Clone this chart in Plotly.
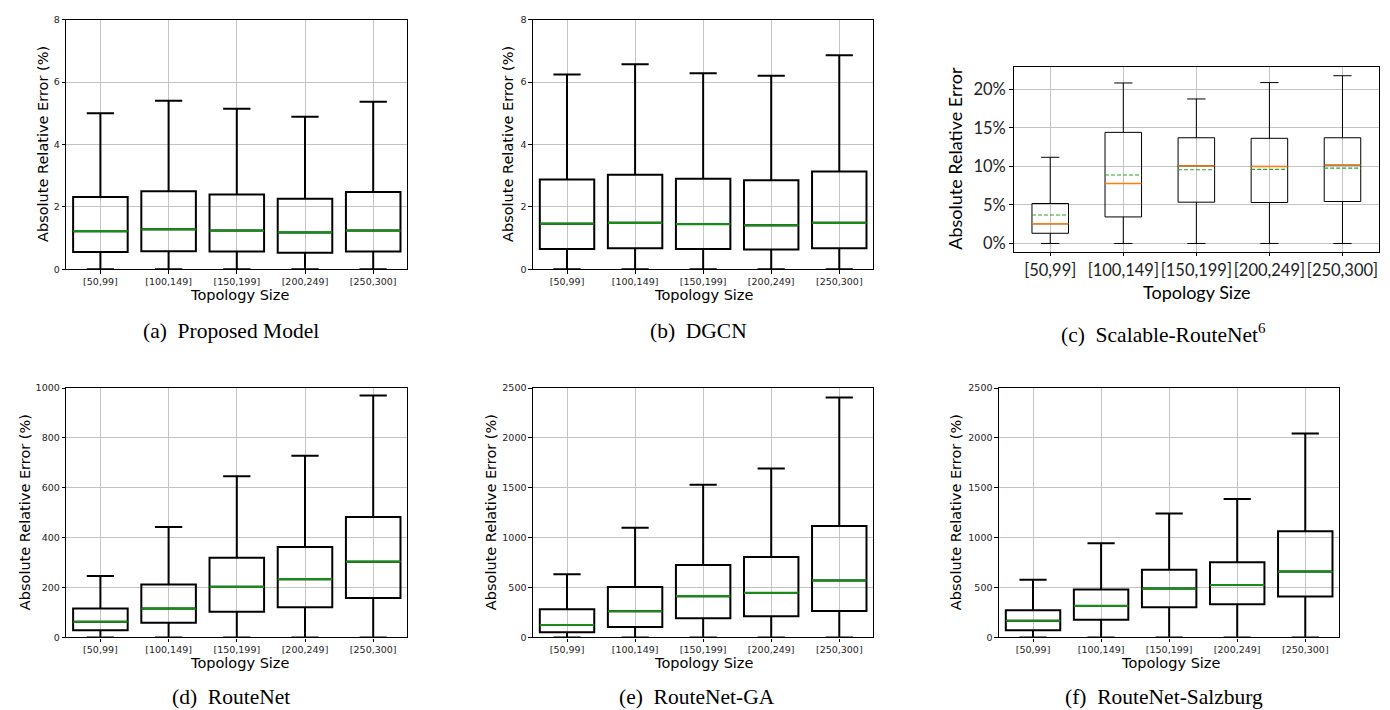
import plotly.graph_objects as go

categories = ["[50,99]", "[100,149]", "[150,199]", "[200,249]", "[250,300]"]
positions = [0, 1, 2, 3, 4]

# (a) Proposed Model
a_low = [0, 0, 0, 0, 0]
a_q1 = [0.55, 0.58, 0.57, 0.53, 0.57]
a_med = [1.22, 1.28, 1.24, 1.18, 1.24]
a_q3 = [2.32, 2.50, 2.40, 2.26, 2.48]
a_high = [5.00, 5.40, 5.14, 4.89, 5.37]

# (b) DGCN
b_low = [0, 0, 0, 0, 0]
b_q1 = [0.65, 0.67, 0.65, 0.63, 0.67]
b_med = [1.46, 1.49, 1.45, 1.41, 1.49]
b_q3 = [2.88, 3.03, 2.90, 2.85, 3.13]
b_high = [6.24, 6.57, 6.28, 6.20, 6.86]

# (c) Scalable-RouteNet (percent)
c_low = [0, 0, 0, 0, 0]
c_q1 = [1.32, 3.44, 5.35, 5.31, 5.44]
c_med = [2.55, 7.77, 10.06, 9.98, 10.15]
c_mean = [3.69, 8.87, 9.55, 9.60, 9.77]
c_q3 = [5.18, 14.4, 13.7, 13.63, 13.7]
c_high = [11.17, 20.8, 18.73, 20.85, 21.74]

# (d) RouteNet
d_low = [0, 0, 0, 0, 0]
d_q1 = [29, 59, 103, 121, 158]
d_med = [63, 116, 203, 234, 304]
d_q3 = [116, 212, 320, 363, 483]
d_high = [247, 443, 647, 729, 970]

# (e) RouteNet-GA
e_low = [0, 0, 0, 0, 0]
e_q1 = [53, 105, 194, 214, 266]
e_med = [125, 263, 414, 447, 572]
e_q3 = [283, 507, 727, 806, 1118]
e_high = [635, 1099, 1530, 1694, 2405]

# (f) RouteNet-Salzburg
f_low = [0, 0, 0, 0, 0]
f_q1 = [72, 178, 303, 332, 411]
f_med = [168, 316, 490, 526, 661]
f_q3 = [273, 480, 678, 753, 1066]
f_high = [579, 944, 1243, 1388, 2046]

captions = ["(a)  Proposed Model", "(b)  DGCN", "(c)  Scalable-RouteNet<sup>6</sup>",
            "(d)  RouteNet", "(e)  RouteNet-GA", "(f)  RouteNet-Salzburg"]

W, H = 1390, 710

# panel frames in pixels (x0, x1, y0, y1), y from top
frames = [
    (58.3, 399.3, 5.7, 259.3),
    (525.0, 865.3, 5.7, 259.3),
    (1005.7, 1371.0, 54.0, 241.3),
    (58.3, 399.3, 380.0, 633.3),
    (525.0, 865.3, 380.0, 633.3),
    (991.0, 1331.3, 380.0, 633.3),
]

yranges = [[0, 8], [0, 8], [-1.05, 22.85], [0, 1000], [0, 2500], [0, 2500]]
ydticks = [2, 2, 5, 200, 500, 500]

stats = [
    (a_low, a_q1, a_med, a_q3, a_high),
    (b_low, b_q1, b_med, b_q3, b_high),
    (c_low, c_q1, c_med, c_q3, c_high),
    (d_low, d_q1, d_med, d_q3, d_high),
    (e_low, e_q1, e_med, e_q3, e_high),
    (f_low, f_q1, f_med, f_q3, f_high),
]

# label positions (px): (ytitle_x, ytitle_y, xtitle_x, xtitle_y, caption_x, caption_y)
label_pos = [
    (35, 132, 231, 285, 223, 322),
    (500, 132, 696, 285, 690, 322),
    (947, 147, 1189, 282, 1155, 325),
    (17, 506, 231, 659, 223, 694),
    (483, 506, 696, 659, 689, 694),
    (948, 506, 1162, 659, 1156, 694),
]

fig = go.Figure()
layout = dict(
    width=W, height=H,
    margin=dict(l=0, r=0, t=0, b=0),
    paper_bgcolor="white", plot_bgcolor="white",
    showlegend=False, hovermode=False,
)
annotations = []

DV = "DejaVu Sans"
LATO = "Lato"
SERIF = "Liberation Serif"

for i in range(6):
    n = i + 1
    xa = "x" if n == 1 else f"x{n}"
    ya = "y" if n == 1 else f"y{n}"
    xkey = "xaxis" if n == 1 else f"xaxis{n}"
    ykey = "yaxis" if n == 1 else f"yaxis{n}"
    x0, x1, y0, y1 = frames[i]
    is_c = (i == 2)
    bw = 0.5 if is_c else 0.8
    lw = 1.0 if is_c else 2.0
    low, q1, med, q3, high = stats[i]

    fig.add_trace(go.Box(
        x=positions, q1=q1, median=med, q3=q3, lowerfence=low, upperfence=high,
        width=bw, whiskerwidth=0.5, boxpoints=False,
        fillcolor="rgba(0,0,0,0)", line=dict(color="black", width=lw),
        xaxis=xa, yaxis=ya,
    ))

    # median overlay
    mx, my = [], []
    for p, m in zip(positions, med):
        mx += [p - bw / 2, p + bw / 2, None]
        my += [m, m, None]
    fig.add_trace(go.Scatter(
        x=mx, y=my, mode="lines",
        line=dict(color="#ff7f0e" if is_c else "#1a8a1a", width=1.4 if is_c else 2.2),
        xaxis=xa, yaxis=ya,
    ))
    if is_c:
        ex, ey = [], []
        for p, m in zip(positions, c_mean):
            ex += [p - bw / 2, p + bw / 2, None]
            ey += [m, m, None]
        fig.add_trace(go.Scatter(
            x=ex, y=ey, mode="lines",
            line=dict(color="#2ca02c", width=1.2, dash="4px,2px"),
            xaxis=xa, yaxis=ya,
        ))

    tick_font = dict(family=LATO if is_c else DV, size=16.5 if is_c else 9.5, color="#222")
    layout[xkey] = dict(
        domain=[x0 / W, x1 / W], anchor=ya, range=[-0.5, 4.5],
        tickmode="array", tickvals=positions, ticktext=categories, tickangle=0,
        showgrid=True, gridcolor="#c4c4c4", gridwidth=1,
        showline=True, linecolor="black", linewidth=1.2, mirror=True,
        ticks="outside", ticklen=3.5, tickcolor="black", tickwidth=1,
        tickfont=tick_font, zeroline=False, fixedrange=True,
    )
    layout[ykey] = dict(
        domain=[1 - y1 / H, 1 - y0 / H], anchor=xa, range=yranges[i],
        tickmode="linear", tick0=0, dtick=ydticks[i],
        ticksuffix="%" if is_c else "",
        showgrid=True, gridcolor="#c4c4c4", gridwidth=1,
        showline=True, linecolor="black", linewidth=1.2, mirror=True,
        ticks="outside", ticklen=3.5, tickcolor="black", tickwidth=1,
        tickfont=tick_font, zeroline=False, fixedrange=True,
    )

    ytx, yty, xtx, xty, cx, cy = label_pos[i]
    title_font = dict(family=LATO if is_c else DV, size=18 if is_c else 14.5, color="black")
    annotations.append(dict(
        text="Absolute Relative Error" if is_c else "Absolute Relative Error (%)",
        x=ytx / W, y=1 - yty / H, xref="paper", yref="paper",
        textangle=-90, showarrow=False, font=title_font,
        xanchor="center", yanchor="middle",
    ))
    annotations.append(dict(
        text="Topology Size", x=xtx / W, y=1 - xty / H, xref="paper", yref="paper",
        showarrow=False, font=title_font, xanchor="center", yanchor="middle",
    ))
    annotations.append(dict(
        text=captions[i], x=cx / W, y=1 - cy / H, xref="paper", yref="paper",
        showarrow=False, font=dict(family=SERIF, size=21.5, color="black"),
        xanchor="center", yanchor="middle",
    ))

layout["annotations"] = annotations
fig.update_layout(**layout)
fig.write_html("out.html")
